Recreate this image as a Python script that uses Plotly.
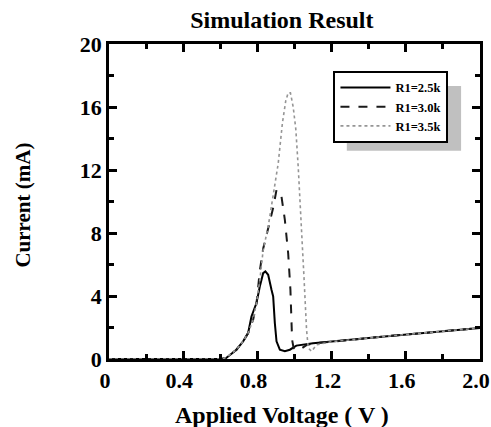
import plotly.graph_objects as go

# Series data
v_25 = [0, 0.60, 0.63, 0.651, 0.687, 0.723, 0.75, 0.768, 0.795, 0.813, 0.831, 0.843, 0.858, 0.876, 0.885,
        0.894, 0.903, 0.921, 0.948, 0.975, 0.993, 1.01, 1.1, 1.2, 1.3, 1.4, 1.5, 1.6, 1.7, 1.8, 1.9, 2.0]
i_25 = [0, 0, 0.05, 0.27, 0.59, 1.12, 1.65, 2.7, 3.55, 4.6, 5.45, 5.56, 5.35, 4.4, 3.97,
        2.28, 1.12, 0.59, 0.49, 0.59, 0.7, 0.85, 1.0, 1.1, 1.2, 1.33, 1.45, 1.55, 1.65, 1.75, 1.85, 1.97]

v_30 = [0, 0.60, 0.63, 0.651, 0.687, 0.723, 0.75, 0.777, 0.795, 0.813, 0.831, 0.85, 0.87, 0.885, 0.903,
        0.915, 0.93, 0.948, 0.966, 0.978, 0.987, 0.995, 1.01, 1.03, 1.06, 1.1, 1.2, 1.3, 1.4, 1.5, 1.6,
        1.7, 1.8, 1.9, 2.0]
i_30 = [0, 0, 0.05, 0.27, 0.59, 1.12, 1.65, 2.5, 3.5, 5.6, 7.0, 7.9, 8.8, 9.6, 10.74,
        10.6, 10.3, 8.84, 6.7, 4.4, 1.23, 0.7, 0.55, 0.6, 0.85, 1.0, 1.1, 1.2, 1.33, 1.45, 1.55,
        1.65, 1.75, 1.85, 1.97]

v_35 = [0, 0.615, 0.651, 0.687, 0.723, 0.75, 0.777, 0.795, 0.813, 0.831, 0.858, 0.885, 0.912, 0.935,
        0.953, 0.966, 0.978, 0.993, 1.007, 1.02, 1.034, 1.05, 1.065, 1.074, 1.092, 1.119, 1.2, 1.3,
        1.4, 1.5, 1.6, 1.7, 1.8, 1.9, 2.0]
i_35 = [0, 0, 0.27, 0.59, 1.12, 1.65, 2.5, 3.55, 5.0, 6.9, 8.4, 10.3, 12.4, 15.0,
        16.4, 16.9, 16.9, 16.0, 14.6, 12.2, 9.3, 5.45, 1.86, 0.7, 0.49, 0.9, 1.1, 1.2,
        1.33, 1.45, 1.55, 1.65, 1.75, 1.85, 1.97]

names = ["R1=2.5k", "R1=3.0k", "R1=3.5k"]
x_ticks = [0, 0.4, 0.8, 1.2, 1.6, 2.0]
x_tick_labels = ["0", "0.4", "0.8", "1.2", "1.6", "2.0"]
y_ticks = [0, 4, 8, 12, 16, 20]
x_range = [0, 2.0]
y_range = [0, 20]

FONT = "Liberation Serif"

fig = go.Figure()
fig.add_trace(go.Scatter(x=v_25, y=i_25, mode="lines", name=names[0],
                         line=dict(color="#000000", width=2, dash="solid")))
fig.add_trace(go.Scatter(x=v_30, y=i_30, mode="lines", name=names[1],
                         line=dict(color="#1a1a1a", width=2, dash="dash")))
fig.add_trace(go.Scatter(x=v_35, y=i_35, mode="lines", name=names[2],
                         line=dict(color="#959595", width=1.6, dash="dot")))
# invisible carrier trace so the mirrored (top/right) axes are drawn with their minor ticks
fig.add_trace(go.Scatter(x=v_35, y=i_35, mode="lines", xaxis="x2", yaxis="y2",
                         line=dict(width=0), opacity=0, showlegend=False, hoverinfo="skip"))

tick_common = dict(ticks="inside", ticklen=8, tickwidth=2.5, tickcolor="black",
                   showgrid=False, zeroline=False, automargin=False)
line_common = dict(showline=True, linecolor="black", linewidth=2.5)
tickfont = dict(family=FONT, size=22, color="black", weight="bold")

fig.update_layout(
    xaxis=dict(range=x_range, tickvals=x_ticks, ticktext=x_tick_labels, tickfont=tickfont,
               ticklabeloverflow="allow", ticklabelshift=-4,
               minor=dict(dtick=0.2, ticks="inside", ticklen=5, tickwidth=2.5, tickcolor="black"),
               **line_common, **tick_common),
    yaxis=dict(range=y_range, tickvals=y_ticks, tickfont=tickfont,
               minor=dict(dtick=2, ticks="inside", ticklen=5, tickwidth=2.5, tickcolor="black"),
               **line_common, **tick_common),
    xaxis2=dict(range=x_range, tickvals=x_ticks, overlaying="x", side="top", anchor="y2",
                showticklabels=False,
                minor=dict(dtick=0.2, ticks="inside", ticklen=5, tickwidth=2.5, tickcolor="black"),
                **line_common, **tick_common),
    yaxis2=dict(range=y_range, tickvals=y_ticks, overlaying="y", side="right", anchor="x2",
                showticklabels=False,
                minor=dict(dtick=2, ticks="inside", ticklen=5, tickwidth=2.5, tickcolor="black"),
                **line_common, **tick_common),
)

fig.add_shape(type="rect", xref="paper", yref="paper", x0=0.641, x1=0.949, y0=0.661, y1=0.867,
              fillcolor="#c0c0c0", line=dict(width=0), layer="below")

fig.update_layout(
    width=491, height=427,
    margin=dict(l=109, r=11, t=44, b=68),
    paper_bgcolor="white", plot_bgcolor="white",
    title=dict(text="Simulation Result", x=0.574, xanchor="center", y=1 - 20 / 427, yanchor="middle",
               font=dict(family=FONT, size=24, color="black", weight="bold")),
    showlegend=True,
    legend=dict(x=0.605, y=0.915, xanchor="left", yanchor="top",
                bgcolor="white", bordercolor="black", borderwidth=2,
                itemwidth=50, tracegroupgap=0,
                font=dict(family=FONT, size=12.5, color="black", weight="bold")),
    annotations=[
        dict(text="Applied Voltage ( V )", xref="paper", yref="paper", x=0.465, y=-0.178,
             xanchor="center", yanchor="middle", showarrow=False,
             font=dict(family=FONT, size=24, color="black", weight="bold")),
        dict(text="Current (mA)", xref="paper", yref="paper", x=-0.232, y=0.49,
             xanchor="center", yanchor="middle", showarrow=False, textangle=-90,
             font=dict(family=FONT, size=21, color="black", weight="bold")),
    ],
)

fig.write_html("out.html")
